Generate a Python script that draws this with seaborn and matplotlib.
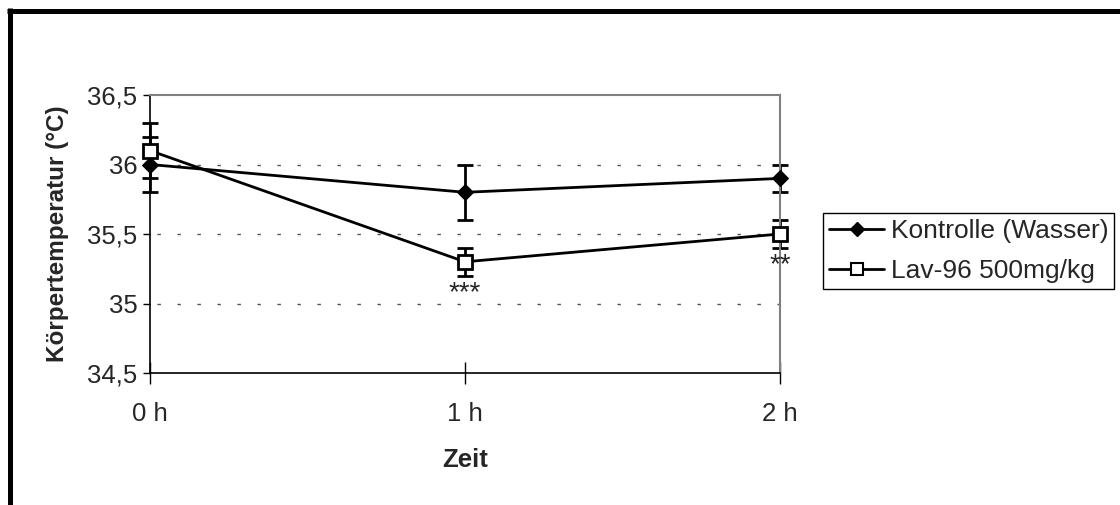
import numpy as np
import pandas as pd
import matplotlib
matplotlib.use("Agg")
import matplotlib.pyplot as plt
from matplotlib.lines import Line2D
import seaborn as sns

sns.set_theme(style="white")
plt.rcParams['font.family'] = ['Liberation Sans', 'DejaVu Sans']

# data
zeit = ["0 h", "1 h", "2 h"]
kontrolle = [36.0, 35.8, 35.9]
kontrolle_err = [0.2, 0.2, 0.1]
lav96 = [36.1, 35.3, 35.5]
lav96_err = [0.2, 0.1, 0.1]
sterne = ["", "***", "**"]
yticks = [34.5, 35.0, 35.5, 36.0, 36.5]
ytick_labels = ["34,5", "35", "35,5", "36", "36,5"]

pos = np.arange(len(zeit))
df = pd.DataFrame({
    "pos": np.concatenate([pos, pos]),
    "temp": kontrolle + lav96,
    "gruppe": ["Kontrolle (Wasser)"] * 3 + ["Lav-96 500mg/kg"] * 3,
})

FS = 18.5

fig = plt.figure(figsize=(11.2, 5.05), dpi=100)
ax = fig.add_axes([150 / 1120, 1 - 373 / 505, 630 / 1120, 278 / 505])

# dashed grid lines
for y in [35.0, 35.5, 36.0]:
    ax.axhline(y, color="#555555", lw=1, ls=(9.4, (2.5, 11.9)), zorder=0)

# error bars
ax.errorbar(pos, kontrolle, yerr=kontrolle_err, fmt="none", ecolor="black",
            elinewidth=2, capsize=6, capthick=2, clip_on=False, zorder=2)
ax.errorbar(pos, lav96, yerr=lav96_err, fmt="none", ecolor="black",
            elinewidth=2, capsize=6, capthick=2, clip_on=False, zorder=2)

sns.lineplot(data=df, x="pos", y="temp", hue="gruppe", style="gruppe",
             palette=["black", "black"], markers=["D", "s"], dashes=False,
             linewidth=2, markersize=10, ax=ax, legend=False, zorder=3,
             clip_on=False)
lines = ax.get_lines()[-2:]
lines[0].set_markerfacecolor("black")
lines[0].set_markeredgecolor("black")
lines[0].set_markersize(8.5)
lines[1].set_markerfacecolor("white")
lines[1].set_markeredgecolor("black")
lines[1].set_markeredgewidth(2)
lines[1].set_markersize(9.5)
for ln in lines:
    ln.set_clip_on(False)

for i, s in enumerate(sterne):
    if s:
        ax.text(pos[i], lav96[i] - lav96_err[i] - 0.03, s, ha="center",
                va="top", fontsize=20)

ax.set_xlim(0, 2)
ax.set_ylim(34.5, 36.5)
ax.set_xticks(pos)
ax.set_xticklabels(zeit, fontsize=FS)
ax.set_yticks(yticks)
ax.set_yticklabels(ytick_labels, fontsize=FS)
ax.tick_params(axis="y", direction="out", length=5, width=1, color="black",
               pad=4, left=True)
ax.tick_params(axis="x", direction="inout", length=16, width=1, color="black",
               pad=13, bottom=True)
ax.set_xlabel("Zeit", fontsize=FS, fontweight="bold", labelpad=15.5)
ax.set_ylabel("Körpertemperatur (°C)", fontsize=17.5, fontweight="bold",
              labelpad=13)

for side in ["left", "bottom"]:
    ax.spines[side].set_color("black")
    ax.spines[side].set_linewidth(1.2)
for side in ["top", "right"]:
    ax.spines[side].set_color("#808080")
    ax.spines[side].set_linewidth(1.5)

handles = [
    Line2D([], [], color="black", lw=2, marker="D", markersize=7,
           markerfacecolor="black", markeredgecolor="black"),
    Line2D([], [], color="black", lw=2, marker="s", markersize=8,
           markerfacecolor="white", markeredgecolor="black",
           markeredgewidth=1.5),
]
leg = fig.legend(handles, ["Kontrolle (Wasser)", "Lav-96 500mg/kg"],
                 loc="upper left", bbox_to_anchor=(823 / 1120, 1 - 213 / 505),
                 fontsize=19, frameon=True, fancybox=False, framealpha=1,
                 edgecolor="black", handlelength=2.1, handletextpad=0.25,
                 borderpad=0.22, labelspacing=0.62, borderaxespad=0)
leg.get_frame().set_linewidth(1)

# thick outer frame (only left and top are visible)
fig.add_artist(Line2D([9.5 / 1120, 9.5 / 1120], [0, 1 - 8 / 505],
                      color="black", lw=3.6, solid_capstyle="butt",
                      transform=fig.transFigure))
fig.add_artist(Line2D([7 / 1120, 1], [1 - 10.5 / 505, 1 - 10.5 / 505],
                      color="black", lw=3.6, solid_capstyle="butt",
                      transform=fig.transFigure))

fig.savefig("out.png", dpi=100)
